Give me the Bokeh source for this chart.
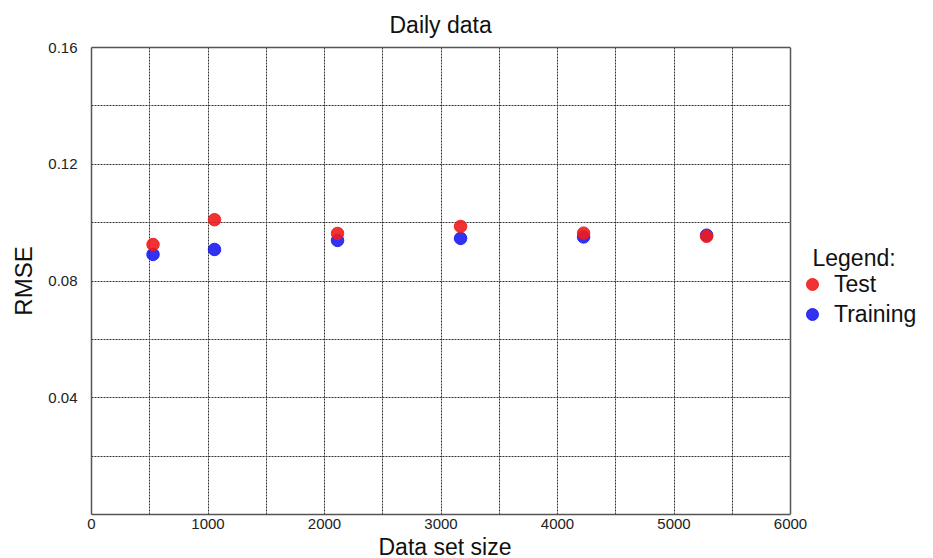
from bokeh.plotting import figure
from bokeh.models import FixedTicker, Legend, LegendItem, Range1d, Label, Span, LinearAxis, Title
from bokeh.embed import file_html
from bokeh.resources import INLINE

sizes = [528, 1056, 2112, 3168, 4224, 5280]
test_rmse = [0.0925, 0.1010, 0.0963, 0.0987, 0.0964, 0.0953]
train_rmse = [0.0891, 0.0908, 0.0939, 0.0946, 0.0951, 0.0957]

x_ticks = [0, 1000, 2000, 3000, 4000, 5000, 6000]
x_grid = [500, 1000, 1500, 2000, 2500, 3000, 3500, 4000, 4500, 5000, 5500]
y_ticks = [0.04, 0.08, 0.12, 0.16]
y_grid = [0.02, 0.04, 0.06, 0.08, 0.10, 0.12, 0.14]
X_MAX = 6000
Y_MAX = 0.16

FONT = "Liberation Sans"
AXIS_COLOR = "#555555"

# the plotting box spans 699 px for 0..6000; the frame is widened so that the
# legend (drawn inside the frame, to the right of x=6000) is not clipped
BOX_W = 699
FRAME_W = 834

p = figure(frame_width=FRAME_W, frame_height=467, output_backend="svg", toolbar_location=None,
           x_range=Range1d(0, X_MAX * FRAME_W / BOX_W), y_range=Range1d(0, Y_MAX),
           min_border_left=91, min_border_top=47, min_border_right=8, min_border_bottom=42)
p.outline_line_color = None

bottom_axis = p.below[0]
left_axis = p.left[0]

p.title.text = "Daily data"
p.title.align = "left"
p.title.offset = 298
p.title.text_font = FONT
p.title.text_font_size = "23px"
p.title.text_font_style = "normal"
p.title.text_color = "#111111"
p.title.standoff = 19

top_axis = LinearAxis(bounds=(0, X_MAX), ticker=FixedTicker(ticks=[]))
p.add_layout(top_axis, "above")

for ax in (bottom_axis, left_axis, top_axis):
    ax.major_tick_line_color = None
    ax.minor_tick_line_color = None
    ax.major_tick_out = 0
    ax.major_tick_in = 0
    ax.minor_tick_out = 0
    ax.minor_tick_in = 0
    ax.axis_line_color = AXIS_COLOR
    ax.axis_line_width = 1.5
    ax.major_label_text_font = FONT
    ax.major_label_text_font_size = "15px"
    ax.major_label_text_color = "#222222"
    ax.axis_label_text_font = FONT
    ax.axis_label_text_font_size = "24px"
    ax.axis_label_text_font_style = "normal"
    ax.axis_label_text_color = "#111111"
top_axis.major_label_standoff = 0
top_axis.axis_label_standoff = 0

bottom_axis.bounds = (0, X_MAX)
bottom_axis.ticker = FixedTicker(ticks=x_ticks)
left_axis.ticker = FixedTicker(ticks=y_ticks)
left_axis.axis_label = "RMSE"
left_axis.axis_label_standoff = 8
bottom_axis.major_label_standoff = 4
left_axis.major_label_standoff = 14

# x-axis title, centred under the 0..6000 box
x_title = Title(text="Data set size", align="left", offset=287, standoff=0,
                text_font=FONT, text_font_size="23px", text_font_style="normal",
                text_color="#111111")
p.add_layout(x_title, "below")

p.xgrid.ticker = FixedTicker(ticks=x_grid)
p.ygrid.ticker = FixedTicker(ticks=y_grid)
p.ygrid.cross_bounds = (0, X_MAX)
for g in (p.xgrid[0], p.ygrid[0]):
    g.grid_line_color = "#333333"
    g.grid_line_dash = "2 1"
    g.grid_line_width = 1

right_edge = Span(location=X_MAX, dimension="height", line_color=AXIS_COLOR, line_width=1.5)
p.add_layout(right_edge)

r_train = p.scatter(sizes, train_rmse, size=12.5, marker="circle",
                    fill_color="#1c1cf0", line_color="#1c1cf0", fill_alpha=0.9, line_alpha=0.9)
r_test = p.scatter(sizes, test_rmse, size=12.5, marker="circle",
                   fill_color="#f01c1c", line_color="#f01c1c", fill_alpha=0.9, line_alpha=0.9)

legend = Legend(items=[LegendItem(label="Test", renderers=[r_test]),
                       LegendItem(label="Training", renderers=[r_train])],
                location=(706, 185))
legend.label_text_font = FONT
legend.label_text_font_size = "23px"
legend.label_text_color = "#111111"
legend.border_line_color = None
legend.background_fill_color = None
legend.background_fill_alpha = 0
legend.glyph_width = 30
legend.glyph_height = 30
legend.label_height = 30
legend.label_standoff = 7
legend.spacing = 0
legend.padding = 0
legend.margin = 0
p.add_layout(legend, "center")

legend_title = Label(x=721, y=257, x_units="screen", y_units="screen", text="Legend:",
                     text_font=FONT, text_font_size="23px", text_color="#111111",
                     text_baseline="alphabetic", text_align="left")
p.add_layout(legend_title)

open("out.html", "w").write(file_html(p, INLINE))
